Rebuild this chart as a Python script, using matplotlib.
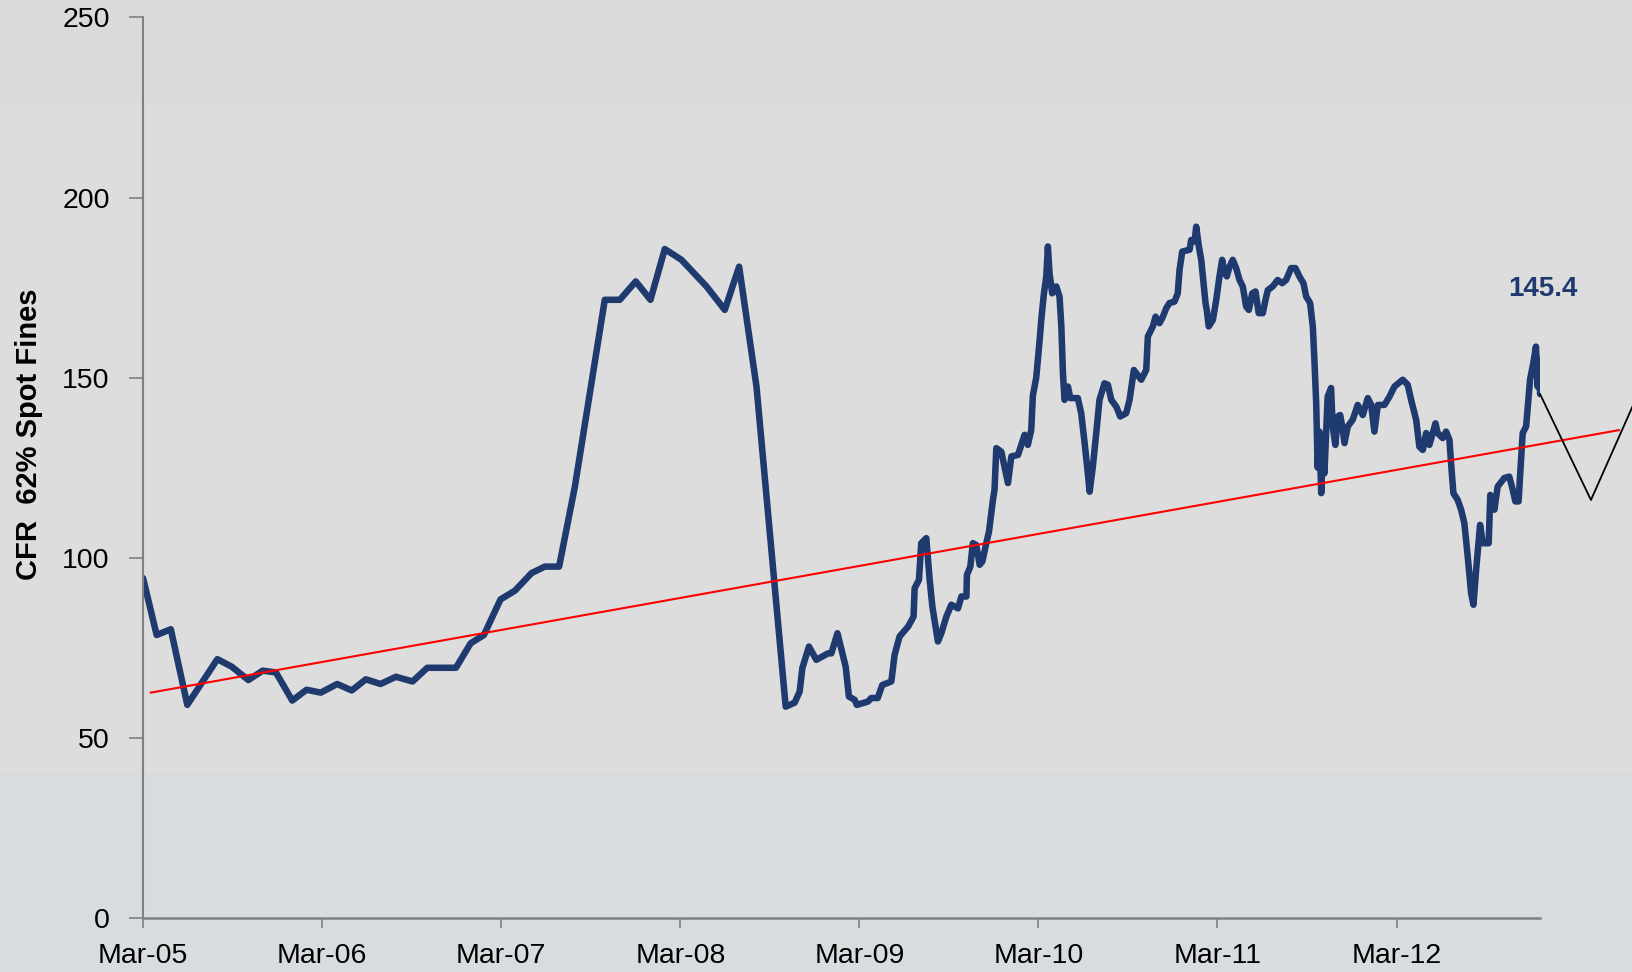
import numpy as np
import pandas as pd
import matplotlib
matplotlib.use("Agg")
import matplotlib.pyplot as plt
import matplotlib.dates as mdates
from matplotlib.patches import Rectangle

plt.rcParams["font.family"] = ["Liberation Sans", "DejaVu Sans"]

# CFR 62% spot fines (years after Mar-05, US$/t)
years = [
    0.000, 0.076, 0.155, 0.247, 0.415, 0.495, 0.588, 0.668, 0.742, 0.833,
    0.913, 0.992, 1.084, 1.165, 1.244, 1.326, 1.412, 1.505, 1.587, 1.747,
    1.829, 1.903, 1.996, 2.076, 2.169, 2.243, 2.323, 2.411, 2.578, 2.662,
    2.751, 2.833, 2.913, 3.006, 3.146, 3.248, 3.328, 3.425, 3.588, 3.638,
    3.666, 3.681, 3.718, 3.759, 3.824, 3.843, 3.877, 3.923, 3.941, 3.973,
    3.985, 4.047, 4.066, 4.102, 4.127, 4.178, 4.196, 4.224, 4.271, 4.302,
    4.308, 4.332, 4.345, 4.373, 4.392, 4.407, 4.438, 4.457, 4.485, 4.513,
    4.550, 4.569, 4.597, 4.600, 4.619, 4.633, 4.652, 4.671, 4.686, 4.708,
    4.723, 4.745, 4.754, 4.764, 4.792, 4.829, 4.848, 4.885, 4.922, 4.940,
    4.959, 4.968, 4.987, 5.006, 5.015, 5.029, 5.043, 5.052, 5.061, 5.076,
    5.099, 5.117, 5.127, 5.136, 5.145, 5.164, 5.177, 5.219, 5.238, 5.257,
    5.275, 5.285, 5.303, 5.322, 5.340, 5.368, 5.387, 5.406, 5.434, 5.456,
    5.489, 5.508, 5.532, 5.573, 5.601, 5.610, 5.638, 5.653, 5.675, 5.694,
    5.713, 5.731, 5.759, 5.777, 5.787, 5.802, 5.843, 5.852, 5.871, 5.880,
    5.895, 5.908, 5.921, 5.932, 5.939, 5.950, 5.973, 5.992, 6.010, 6.025,
    6.038, 6.051, 6.066, 6.084, 6.103, 6.122, 6.140, 6.159, 6.174, 6.193,
    6.211, 6.229, 6.252, 6.267, 6.280, 6.307, 6.335, 6.360, 6.382, 6.410,
    6.434, 6.456, 6.479, 6.494, 6.516, 6.531, 6.540, 6.550, 6.558, 6.568,
    6.578, 6.587, 6.596, 6.614, 6.633, 6.642, 6.657, 6.670, 6.684, 6.698,
    6.708, 6.726, 6.754, 6.782, 6.810, 6.838, 6.857, 6.875, 6.894, 6.931,
    6.959, 6.987, 7.033, 7.061, 7.080, 7.108, 7.126, 7.145, 7.164, 7.182,
    7.216, 7.228, 7.256, 7.275, 7.294, 7.303, 7.316, 7.340, 7.359, 7.377,
    7.396, 7.415, 7.428, 7.443, 7.465, 7.480, 7.513, 7.522, 7.545, 7.563,
    7.600, 7.628, 7.643, 7.662, 7.680, 7.688, 7.703, 7.722, 7.744, 7.762,
    7.777, 7.786, 7.796, 7.800,
]
price = [
    94.3, 78.5, 80.1, 59.1, 71.8, 69.7, 66.0, 68.6, 68.1, 60.3,
    63.3, 62.5, 64.9, 63.1, 66.2, 64.9, 66.9, 65.6, 69.4, 69.4,
    76.2, 78.5, 88.4, 90.8, 95.7, 97.5, 97.5, 119.7, 171.6, 171.6,
    176.7, 171.6, 185.7, 182.7, 175.3, 168.8, 180.8, 147.5, 58.6, 59.7,
    62.8, 69.3, 75.3, 71.6, 73.4, 73.4, 79.0, 69.7, 61.4, 60.5,
    59.1, 60.0, 61.0, 61.0, 64.6, 65.6, 73.0, 78.1, 80.8, 83.6,
    91.5, 93.8, 104.0, 105.4, 93.8, 86.4, 76.7, 79.0, 83.6, 86.9,
    85.9, 89.2, 89.2, 95.2, 97.5, 104.0, 103.5, 98.0, 98.9, 104.0,
    107.2, 116.0, 118.8, 130.4, 129.4, 120.7, 128.1, 128.5, 134.1, 131.3,
    135.5, 145.0, 150.0, 160.5, 166.0, 173.0, 178.1, 186.4, 179.0, 173.4,
    175.3, 172.5, 164.2, 151.2, 143.8, 147.5, 144.3, 144.3, 140.1, 131.8,
    123.4, 118.3, 125.3, 134.6, 143.8, 148.4, 148.0, 143.8, 141.9, 139.2,
    140.1, 143.8, 152.1, 149.4, 152.1, 161.4, 164.2, 166.9, 165.1, 166.9,
    169.3, 170.7, 171.1, 173.4, 179.9, 185.0, 185.5, 188.2, 187.8, 191.9,
    186.4, 182.7, 176.2, 170.7, 168.8, 164.2, 166.0, 171.6, 178.1, 182.7,
    179.0, 178.1, 180.8, 182.7, 180.4, 177.1, 175.3, 169.7, 168.8, 173.4,
    173.9, 167.9, 167.9, 171.6, 174.3, 175.3, 177.1, 176.2, 177.1, 180.4,
    180.4, 178.1, 176.2, 172.5, 170.7, 164.2, 154.9, 142.9, 125.0, 135.0,
    117.9, 130.0, 123.4, 144.7, 147.1, 136.4, 131.3, 139.2, 139.6, 135.5,
    131.8, 136.4, 138.3, 142.4, 139.6, 144.3, 142.4, 135.0, 142.4, 142.4,
    144.7, 147.5, 149.4, 148.0, 143.8, 138.3, 130.8, 129.9, 134.6, 131.3,
    137.3, 134.6, 133.2, 135.0, 132.7, 126.2, 117.9, 116.0, 113.3, 109.6,
    100.3, 90.1, 86.9, 96.6, 109.1, 104.0, 104.0, 117.4, 113.3, 119.7,
    122.1, 122.5, 119.7, 115.6, 115.6, 122.5, 134.6, 136.4, 149.4, 154.0,
    158.6, 147.5, 154.9, 145.4,
]

# linear trend line
trend_years = [0.043, 8.24]
trend_vals = [62.5, 135.4]

# stray black series past the last point
tail_years = [7.800, 8.084, 8.37]
tail_vals = [145.4, 116.0, 148.0]

last_label = "145.4"

start = pd.Timestamp("2005-03-01")


def to_dates(yrs):
    return start + pd.to_timedelta(np.asarray(yrs) * 365.25, unit="D")


fig = plt.figure(figsize=(16.33, 9.72), dpi=100)
fig.patch.set_facecolor("#dddddd")
# faint horizontal bands in the background
for y0, h, c in [(1 - 103 / 972, 103 / 972, "#d9dadc"), (0, 200 / 972, "#d9dcdf")]:
    fig.patches.append(Rectangle((0, y0), 1, h, transform=fig.transFigure,
                                 facecolor=c, edgecolor="none", zorder=-10))

ax = fig.add_axes([0.0876, 0.0559, 0.8555, 0.9261])
ax.patch.set_alpha(0)

ax.plot(to_dates(years), price, color="#1f3a6e", lw=4.7,
        solid_joinstyle="round", solid_capstyle="round", zorder=2)
ax.plot(to_dates(trend_years), trend_vals, color="#ff0000", lw=1.5,
        clip_on=False, zorder=3)
ax.plot(to_dates(tail_years), tail_vals, color="black", lw=1.3,
        clip_on=False, zorder=3)

ax.text(to_dates([7.818])[0], 174.6, last_label, ha="center", va="center",
        fontsize=20, fontweight="bold", color="#1f3a6e")

ax.set_xlim(start, to_dates([years[-1]])[0])
ax.set_ylim(0, 250)
ax.set_yticks(range(0, 251, 50))
ax.xaxis.set_major_locator(mdates.MonthLocator(bymonth=3))
ax.xaxis.set_major_formatter(mdates.DateFormatter("%b-%y"))

for s in ["top", "right"]:
    ax.spines[s].set_visible(False)
ax.spines["left"].set_color("#808080")
ax.spines["left"].set_linewidth(1.5)
ax.spines["bottom"].set_color("#808080")
ax.spines["bottom"].set_linewidth(1.8)

ax.tick_params(axis="y", length=10, width=1.2, color="#808080", pad=14,
               labelsize=20.5, labelcolor="black")
ax.tick_params(axis="x", length=7, width=1.2, color="#808080", pad=11,
               labelsize=20.5, labelcolor="black")

ax.set_ylabel("CFR  62% Spot Fines", fontsize=21, fontweight="bold")
ax.yaxis.set_label_coords(-0.0716, 0.537)

fig.savefig("out.png", dpi=100, facecolor=fig.get_facecolor())
